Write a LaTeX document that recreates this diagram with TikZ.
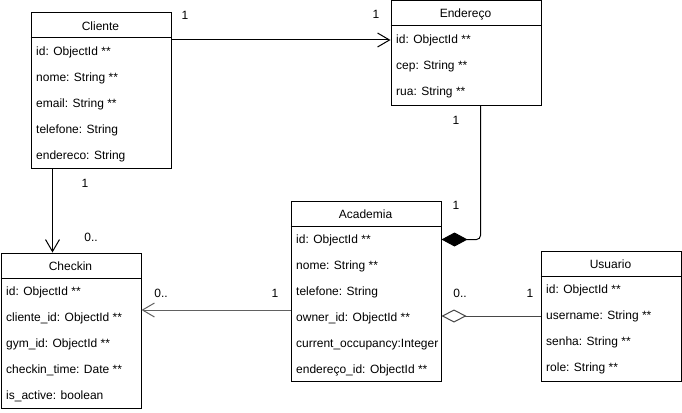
\documentclass[tikz,border=0pt]{standalone}
\usepackage{fontspec}
\setmainfont{Liberation Sans}
\usetikzlibrary{arrows.meta}
\begin{document}
\begin{tikzpicture}[x=1pt,y=-1pt,
  box/.style={draw=black, line width=1pt, fill=white, anchor=north west, inner sep=0pt},
  attr/.style={anchor=west, inner sep=0pt, yshift=-1.5pt, font=\fontsize{12}{14}\selectfont},
  hdr/.style={inner sep=0pt, yshift=-1pt, font=\fontsize{12}{14}\selectfont},
  mult/.style={inner sep=0pt, font=\fontsize{12}{14}\selectfont},
  conn/.style={line width=1pt, draw=black},
  openarr/.style={-{Straight Barb[length=12pt,width=14pt]}},
  comp/.style={{Diamond[length=26pt,width=14pt]}-},
  aggr/.style={{Diamond[open,length=25pt,width=13pt,fill=white]}-}
]
\useasboundingbox (0,0) rectangle (682,412);

% ---------- Cliente ----------
\node[box, minimum width=140pt, minimum height=155pt] (cli) at (30.5,12.5) {};
\draw[line width=1pt] ([yshift=-25pt]cli.north west) -- ([yshift=-25pt]cli.north east);
\node[hdr] (clih) at (100.5,25) {Cliente};
\node[attr] (cid) at (36,51) {id: ObjectId **};
\node[attr] (cnome) at (36,77) {nome: String **};
\node[attr] (cemail) at (36,103) {email: String **};
\node[attr] (ctel) at (36,129) {telefone: String};
\node[attr] (cend) at (36,155) {endereco: String};

% ---------- Endereco ----------
\node[box, minimum width=150pt, minimum height=104pt] (ende) at (390.5,0.5) {};
\draw[line width=1pt] ([yshift=-25.5pt]ende.north west) -- ([yshift=-25.5pt]ende.north east);
\node[hdr] (endh) at (465.5,13.5) {Endereço};
\node[attr] (eid) at (396,39) {id: ObjectId **};
\node[attr] (ecep) at (396,65) {cep: String **};
\node[attr] (erua) at (396,91) {rua: String **};

% ---------- Academia ----------
\node[box, minimum width=150pt, minimum height=180pt] (aca) at (290.5,200.5) {};
\draw[line width=1pt] ([yshift=-25.5pt]aca.north west) -- ([yshift=-25.5pt]aca.north east);
\node[hdr] (acah) at (365.5,213) {Academia};
\node[attr] (aid) at (296,239) {id: ObjectId **};
\node[attr] (anome) at (296,265) {nome: String **};
\node[attr] (atel) at (296,291) {telefone: String};
\node[attr] (aown) at (296,317) {owner\_id: ObjectId **};
\begin{scope}
  \clip (aca.north west) rectangle (aca.south east);
  \node[attr] (aocc) at (296,343) {current\_occupancy:Integer};
\end{scope}
\node[attr] (aend) at (296,369) {endereço\_id: ObjectId **};

% ---------- Checkin ----------
\node[box, minimum width=140pt, minimum height=155pt] (chk) at (0.5,252.5) {};
\draw[line width=1pt] ([yshift=-25.5pt]chk.north west) -- ([yshift=-25.5pt]chk.north east);
\node[hdr] (chkh) at (70.5,265) {Checkin};
\node[attr] (kid) at (6,291) {id: ObjectId **};
\node[attr] (kcli) at (6,317) {cliente\_id: ObjectId **};
\node[attr] (kgym) at (6,343) {gym\_id: ObjectId **};
\node[attr] (ktime) at (6,369) {checkin\_time: Date **};
\node[attr] (kact) at (6,395) {is\_active: boolean};

% ---------- Usuario ----------
\node[box, minimum width=140pt, minimum height=130pt] (usu) at (540.5,250.5) {};
\draw[line width=1pt] ([yshift=-25.5pt]usu.north west) -- ([yshift=-25.5pt]usu.north east);
\node[hdr] (usuh) at (610.5,263) {Usuario};
\node[attr] (uid) at (546,289) {id: ObjectId **};
\node[attr] (uname) at (546,315) {username: String **};
\node[attr] (usen) at (546,341) {senha: String **};
\node[attr] (urole) at (546,367) {role: String **};

% ---------- Connectors ----------
% Cliente -> Endereco
\coordinate (ce) at ([yshift=-39.5pt]ende.north west);
\draw[conn, openarr] (ce -| cli.east) -- (ce);
\node[mult] (m1) at (185,15) {1};
\node[mult] (m2) at (376,14) {1};

% Cliente -> Checkin
\coordinate (cc) at ([xshift=22pt]cli.south west);
\draw[conn, openarr] (cc) -- (cc |- chk.north);
\node[mult] (m3) at (85,183) {1};
\node[mult] (m4) at (91,237) {0..};

% Endereco -- Academia (composition)
\coordinate (ec) at ([xshift=90pt]ende.south west);
\coordinate (ac) at ([yshift=-39pt]aca.north east);
\draw[conn, comp, rounded corners=4pt] (ac) -- (ac -| ec) -- (ec);
\node[mult] (m5) at (456,120) {1};
\node[mult] (m6) at (456,205) {1};

% Academia -> Checkin
\coordinate (ay) at ([yshift=-109.5pt]aca.north west);
\draw[conn, draw=black!62, openarr] (ay) -- (ay -| chk.east);
\node[mult] (m7) at (161,293) {0..};
\node[mult] (m8) at (275,293) {1};

% Usuario -- Academia (aggregation)
\coordinate (au) at ([yshift=-115.5pt]aca.north east);
\draw[conn, draw=black!72, aggr] (au) -- (au -| usu.west);
\node[mult] (m9) at (460,293) {0..};
\node[mult] (m10) at (530,293) {1};
\end{tikzpicture}
\end{document}
